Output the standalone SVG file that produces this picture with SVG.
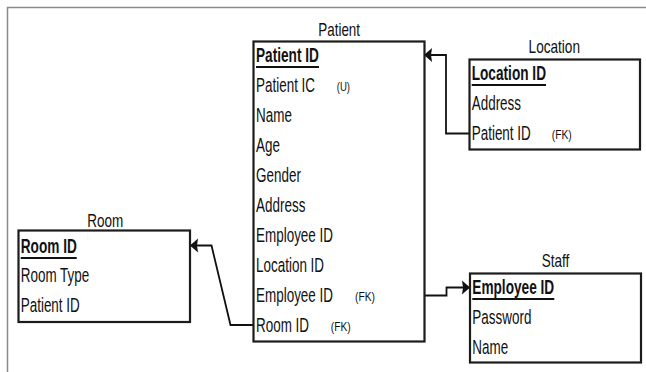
<svg xmlns="http://www.w3.org/2000/svg" width="646" height="372" viewBox="0 0 646 372">
<style>
.frame{fill:none;stroke:#8a8a8a;stroke-width:1.5}
.box{fill:#fff;stroke:#1c1c1c;stroke-width:2.2}
.t{font-family:"Liberation Sans",Arial,sans-serif;font-size:19.5px;fill:#111}
.title{font-family:"Liberation Sans",Arial,sans-serif;font-size:18px;fill:#111}
.b{font-weight:bold}
.s{font-family:"Liberation Sans",Arial,sans-serif;font-size:12px;fill:#111}
.ul{stroke:#111;stroke-width:2}
.conn{fill:none;stroke:#111;stroke-width:1.8}
</style>
<defs>
<marker id="arr" viewBox="-9 -8 10 16" refX="0" refY="0" markerWidth="10" markerHeight="16" markerUnits="userSpaceOnUse" orient="auto">
<path d="M0,0 L-8,-7 L-7,0 L-8,7 Z" fill="#111"/>
</marker>
</defs>
<rect width="646" height="372" fill="#fff"/>
<path class="frame" d="M7.5,372 V7.5 H646"/>

<g id="connectors">
<path class="conn" d="M469,133.5 H446 V55 H424" marker-end="url(#arr)"/>
<path class="conn" d="M254,325 H230.5 L211.5,245.5 H190" marker-end="url(#arr)"/>
<path class="conn" d="M424,295.5 H446.5 V287.5 H470" marker-end="url(#arr)"/>
</g>

<g id="patient">
<text class="title" transform="matrix(0.745,0,0,1,318.3,36)">Patient</text>
<rect class="box" x="253.5" y="41.5" width="171" height="300"/>
<text class="t b" transform="matrix(0.70,0,0,1,256,62)">Patient ID</text>
<line class="ul" x1="256" y1="67" x2="319" y2="67"/>
<text class="t" transform="matrix(0.69,0,0,1,256,92)">Patient IC</text>
<text class="s" transform="matrix(0.8,0,0,1,336.7,91)">(U)</text>
<text class="t" transform="matrix(0.69,0,0,1,256,122)">Name</text>
<text class="t" transform="matrix(0.69,0,0,1,256,152)">Age</text>
<text class="t" transform="matrix(0.69,0,0,1,256,182)">Gender</text>
<text class="t" transform="matrix(0.69,0,0,1,256,212)">Address</text>
<text class="t" transform="matrix(0.69,0,0,1,256,242)">Employee ID</text>
<text class="t" transform="matrix(0.69,0,0,1,256,272)">Location ID</text>
<text class="t" transform="matrix(0.69,0,0,1,256,302)">Employee ID</text>
<text class="s" transform="matrix(0.86,0,0,1,355,301)">(FK)</text>
<text class="t" transform="matrix(0.69,0,0,1,256,332)">Room ID</text>
<text class="s" transform="matrix(0.86,0,0,1,330.7,331)">(FK)</text>
</g>

<g id="location">
<text class="title" transform="matrix(0.756,0,0,1,528.6,53)">Location</text>
<rect class="box" x="469.5" y="59.5" width="170.5" height="90"/>
<text class="t b" transform="matrix(0.70,0,0,1,471.7,80)">Location ID</text>
<line class="ul" x1="471.7" y1="85" x2="546" y2="85"/>
<text class="t" transform="matrix(0.69,0,0,1,471.7,110)">Address</text>
<text class="t" transform="matrix(0.69,0,0,1,471.7,140)">Patient ID</text>
<text class="s" transform="matrix(0.86,0,0,1,551.7,139)">(FK)</text>
</g>

<g id="staff">
<text class="title" transform="matrix(0.75,0,0,1,541.8,267)">Staff</text>
<rect class="box" x="470" y="273.5" width="171" height="89"/>
<text class="t b" transform="matrix(0.70,0,0,1,472.3,294)">Employee ID</text>
<line class="ul" x1="472.3" y1="299" x2="554.3" y2="299"/>
<text class="t" transform="matrix(0.69,0,0,1,472.3,324)">Password</text>
<text class="t" transform="matrix(0.69,0,0,1,472.3,354)">Name</text>
</g>

<g id="room">
<text class="title" transform="matrix(0.75,0,0,1,87.3,226.7)">Room</text>
<rect class="box" x="18.5" y="230.5" width="171.5" height="91.5"/>
<text class="t b" transform="matrix(0.70,0,0,1,20.7,253)">Room ID</text>
<line class="ul" x1="20.7" y1="258" x2="76.7" y2="258"/>
<text class="t" transform="matrix(0.69,0,0,1,20.7,282)">Room Type</text>
<text class="t" transform="matrix(0.69,0,0,1,20.7,312)">Patient ID</text>
</g>
</svg>
